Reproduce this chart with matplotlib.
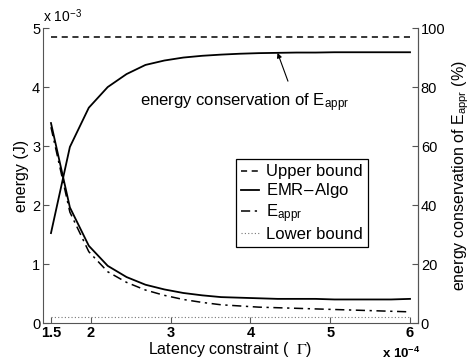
import matplotlib

matplotlib.use("Agg")
import matplotlib.pyplot as plt

plt.rcParams["font.family"] = ["Liberation Sans", "DejaVu Sans"]
plt.rcParams["mathtext.fontset"] = "stix"

# latency constraint (x 1e-4)
latency = [1.5, 1.737, 1.974, 2.211, 2.447, 2.684, 2.921, 3.158, 3.395, 3.632,
           3.868, 4.105, 4.342, 4.579, 4.816, 5.053, 5.289, 5.526, 5.763, 6.0]

# energy (x 1e-3 J)
upper_bound = [4.85] * len(latency)
emr_algo = [3.39, 1.96, 1.31, 0.97, 0.78, 0.65, 0.57, 0.51, 0.47, 0.44,
            0.43, 0.42, 0.41, 0.41, 0.41, 0.40, 0.40, 0.40, 0.40, 0.41]
e_appr = [3.32, 1.88, 1.21, 0.87, 0.69, 0.56, 0.47, 0.40, 0.35, 0.31,
          0.29, 0.27, 0.26, 0.25, 0.24, 0.23, 0.22, 0.21, 0.20, 0.19]
lower_bound = [0.10] * len(latency)

# energy conservation of E_appr (%)
conservation = [30.5, 59.7, 73.0, 80.0, 84.4, 87.5, 89.0, 90.0, 90.6, 91.0,
                91.3, 91.5, 91.6, 91.7, 91.7, 91.8, 91.8, 91.8, 91.8, 91.8]

spine_col = "#555555"
eappr_txt = r"E$_{\mathregular{appr}}$"

fig = plt.figure(figsize=(4.72, 3.63), dpi=100)
ax = fig.add_axes([0.0911, 0.110, 0.7945, 0.8127])
ax2 = ax.twinx()

ax.plot(latency, upper_bound, color="black", linestyle=(0, (4, 3)), linewidth=1.1, label="Upper bound")
ax.plot(latency, emr_algo, color="black", linestyle="-", linewidth=1.3, label="EMR$-$Algo")
ax.plot(latency, e_appr, color="black", linestyle=(0, (6, 3, 1.5, 3)), linewidth=1.1, label=eappr_txt)
ax.plot(latency, lower_bound, color="#777777", linestyle=(0, (1, 2)), linewidth=0.8, label="Lower bound")
ax2.plot(latency, conservation, color="black", linewidth=1.3)

ax.set_xlim(1.4, 6.1)
ax.set_ylim(0, 5)
ax2.set_ylim(0, 100)
ax.set_xticks([1.5, 2, 3, 4, 5, 6])
ax.set_xticklabels(["1.5", "2", "3", "4", "5", "6"], fontweight="bold")
ax.set_yticks([0, 1, 2, 3, 4, 5])
ax2.set_yticks([0, 20, 40, 60, 80, 100])

for a in (ax, ax2):
    a.spines["top"].set_visible(False)
    for s in ("left", "right", "bottom"):
        a.spines[s].set_color(spine_col)
    a.tick_params(direction="in", length=4, color=spine_col, labelsize=10.5, pad=2)
ax2.spines["left"].set_visible(False)
ax2.spines["bottom"].set_visible(False)

ax.set_xlabel(r"Latency constraint (  $\Gamma$)", fontsize=11.5, labelpad=0)
ax.set_ylabel("energy (J)", fontsize=11.5, labelpad=2)
ax2.set_ylabel("energy conservation of " + eappr_txt + " (%)", fontsize=11.5, labelpad=4)

ax.text(0.0, 1.01, r"x 10$^{\mathregular{-3}}$", transform=ax.transAxes, fontsize=10, va="bottom", ha="left")
ax.text(0.955, -0.117, r"x 10$^{\mathregular{-4}}$", transform=ax.transAxes, fontsize=9.5,
        fontweight="bold", va="baseline", ha="center")

ax2.text(2.62, 73.5, "energy conservation of " + eappr_txt, fontsize=12, va="baseline", ha="left")
ax2.annotate("", xy=(4.34, 91.6), xytext=(4.47, 82.0),
             arrowprops=dict(arrowstyle="-|>", color="black", lw=0.8, shrinkA=0, shrinkB=0,
                             mutation_scale=7))

leg = ax.legend(loc="upper right", bbox_to_anchor=(0.866, 0.555), borderaxespad=0, fontsize=12,
                handlelength=1.1, handletextpad=0.4, labelspacing=0.12, borderpad=0.3,
                fancybox=False, edgecolor="black", framealpha=1)
leg.get_frame().set_linewidth(0.9)

fig.savefig("out.png", dpi=100)
plt.close(fig)
